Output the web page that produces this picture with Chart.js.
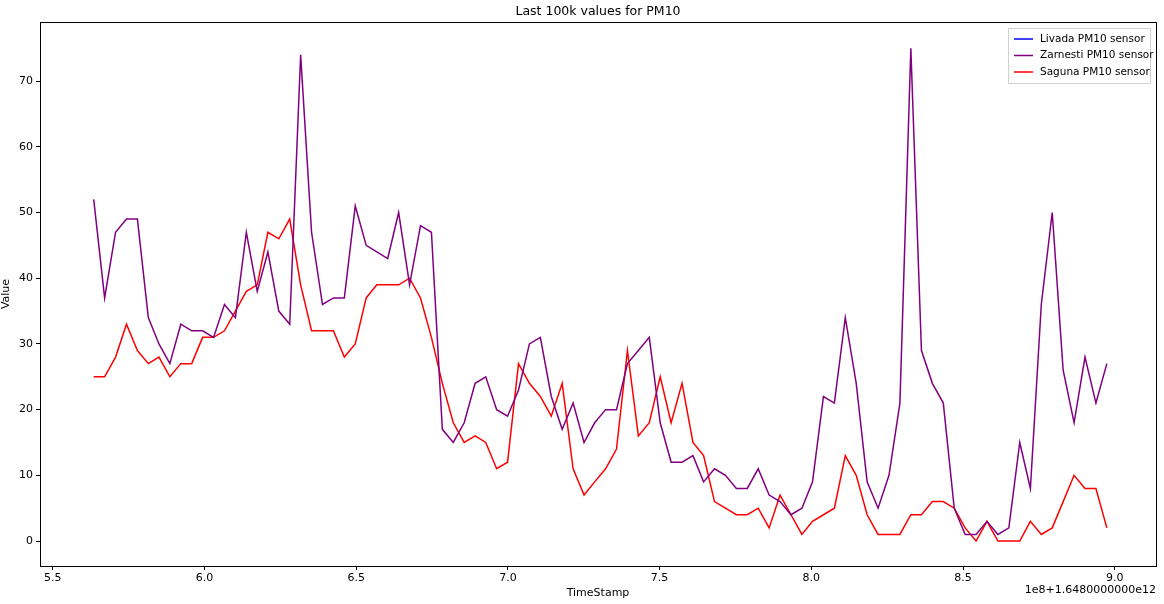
<!DOCTYPE html>
<html>
<head>
<meta charset="utf-8">
<script src="https://cdn.jsdelivr.net/npm/chart.js@4.4.1/dist/chart.umd.min.js"></script>
<style>
  html, body { margin: 0; padding: 0; background: #fff; }
  #wrap { width: 1164px; height: 604px; }
</style>
</head>
<body>
<div id="wrap"><canvas id="c"></canvas></div>
<script>
// timestamps, in units of 1e8 above 1.648e12
const stamps = [5.635, 5.671, 5.707, 5.743, 5.779, 5.815, 5.850, 5.886, 5.922, 5.958,
  5.994, 6.030, 6.066, 6.102, 6.138, 6.174, 6.209, 6.245, 6.281, 6.317,
  6.353, 6.389, 6.425, 6.461, 6.497, 6.533, 6.568, 6.604, 6.640, 6.676,
  6.712, 6.748, 6.784, 6.820, 6.856, 6.892, 6.927, 6.963, 6.999, 7.035,
  7.071, 7.107, 7.143, 7.179, 7.215, 7.251, 7.286, 7.322, 7.358, 7.394,
  7.430, 7.466, 7.502, 7.538, 7.574, 7.610, 7.645, 7.681, 7.717, 7.753,
  7.789, 7.825, 7.861, 7.897, 7.933, 7.969, 8.004, 8.040, 8.076, 8.112,
  8.148, 8.184, 8.220, 8.256, 8.292, 8.328, 8.363, 8.399, 8.435, 8.471,
  8.507, 8.543, 8.579, 8.615, 8.651, 8.687, 8.722, 8.758, 8.794, 8.830,
  8.866, 8.902, 8.938, 8.974];

const livada = [];

const zarnesti = [52, 37, 47, 49, 49, 34, 30, 27, 33, 32,
  32, 31, 36, 34, 47, 38, 44, 35, 33, 74,
  47, 36, 37, 37, 51, 45, 44, 43, 50, 39,
  48, 47, 17, 15, 18, 24, 25, 20, 19, 23,
  30, 31, 22, 17, 21, 15, 18, 20, 20, 27,
  29, 31, 18, 12, 12, 13, 9, 11, 10, 8,
  8, 11, 7, 6, 4, 5, 9, 22, 21, 34,
  24, 9, 5, 10, 21, 75, 29, 24, 21, 5,
  1, 1, 3, 1, 2, 15, 8, 36, 50, 26,
  18, 28, 21, 27];

const saguna = [25, 25, 28, 33, 29, 27, 28, 25, 27, 27,
  31, 31, 32, 35, 38, 39, 47, 46, 49, 39,
  32, 32, 32, 28, 30, 37, 39, 39, 39, 40,
  37, 31, 24, 18, 15, 16, 15, 11, 12, 27,
  24, 22, 19, 24, 11, 7, 9, 11, 14, 29,
  16, 18, 25, 18, 24, 15, 13, 6, 5, 4,
  4, 5, 2, 7, 4, 1, 3, 4, 5, 13,
  10, 4, 1, 1, 1, 4, 4, 6, 6, 5,
  2, 0, 3, 0, 0, 0, 3, 1, 2, 6,
  10, 8, 8, 2];

const xTicks = [5.5, 6.0, 6.5, 7.0, 7.5, 8.0, 8.5, 9.0];
const yTicks = [0, 10, 20, 30, 40, 50, 60, 70];

const series = [
  { label: 'Livada PM10 sensor',   values: livada,   color: '#0000ff' },
  { label: 'Zarnesti PM10 sensor', values: zarnesti, color: '#800080' },
  { label: 'Saguna PM10 sensor',   values: saguna,   color: '#ff0000' },
];

const font = "'DejaVu Sans', sans-serif";

const frame = {
  id: 'frame',
  afterDraw(chart) {
    const { ctx, chartArea: a } = chart;
    ctx.save();
    ctx.strokeStyle = '#000';
    ctx.lineWidth = 1;
    ctx.strokeRect(a.left + 0.5, a.top + 0.5, a.right - a.left, a.bottom - a.top);

    ctx.fillStyle = '#000';
    ctx.font = '12.5px ' + font;
    ctx.textAlign = 'center';
    ctx.textBaseline = 'middle';
    ctx.fillText('Last 100k values for PM10', (a.left + a.right) / 2, 12);

    ctx.font = '11px ' + font;
    ctx.textAlign = 'right';
    ctx.fillText('1e8+1.6480000000e12', a.right, 590);

    // legend box, upper right
    ctx.font = '10.5px ' + font;
    const bw = 142, bh = 55, bx = a.right - bw - 6, by = a.top + 6;
    ctx.fillStyle = 'rgba(255,255,255,0.8)';
    ctx.strokeStyle = '#d0d0d0';
    ctx.beginPath();
    ctx.rect(bx + 0.5, by + 0.5, bw, bh);
    ctx.fill(); ctx.stroke();
    ctx.textAlign = 'left';
    series.forEach((s, i) => {
      const y = by + 11 + i * 16.5;
      ctx.strokeStyle = s.color;
      ctx.lineWidth = 1.5;
      ctx.beginPath(); ctx.moveTo(bx + 6, y); ctx.lineTo(bx + 25, y); ctx.stroke();
      ctx.fillStyle = '#000';
      ctx.fillText(s.label, bx + 32, y);
    });
    ctx.restore();
  }
};

new Chart(document.getElementById('c'), {
  type: 'line',
  data: {
    datasets: series.map(s => ({
      label: s.label,
      data: s.values.map((v, i) => ({ x: stamps[i], y: v })),
      borderColor: s.color,
      borderWidth: 1.5,
      pointRadius: 0,
      tension: 0,
      fill: false
    }))
  },
  options: {
    responsive: true, maintainAspectRatio: false, animation: false,
    layout: { padding: { top: 22, right: 8, left: 0, bottom: 0 } },
    plugins: { legend: { display: false }, title: { display: false }, tooltip: { enabled: false } },
    scales: {
      x: {
        type: 'linear', min: 5.458, max: 9.136,
        afterBuildTicks: s => { s.ticks = xTicks.map(v => ({ value: v })); },
        afterFit: s => { s.height = 38; },
        ticks: { color: '#000', font: { family: font, size: 11 }, padding: 2, maxRotation: 0,
                 callback: v => v.toFixed(1) },
        grid: { drawOnChartArea: false, tickLength: 4, color: '#000' },
        border: { display: false },
        title: { display: true, text: 'TimeStamp', color: '#000', font: { family: font, size: 11 }, padding: { top: 2 } }
      },
      y: {
        min: -3.8, max: 79.0,
        afterBuildTicks: s => { s.ticks = yTicks.map(v => ({ value: v })); },
        afterFit: s => { s.width = 40; },
        ticks: { color: '#000', font: { family: font, size: 11 }, padding: 3 },
        grid: { drawOnChartArea: false, tickLength: 4, color: '#000' },
        border: { display: false },
        title: { display: true, text: 'Value', color: '#000', font: { family: font, size: 11 }, padding: 0 }
      }
    }
  },
  plugins: [frame]
});
</script>
</body>
</html>
